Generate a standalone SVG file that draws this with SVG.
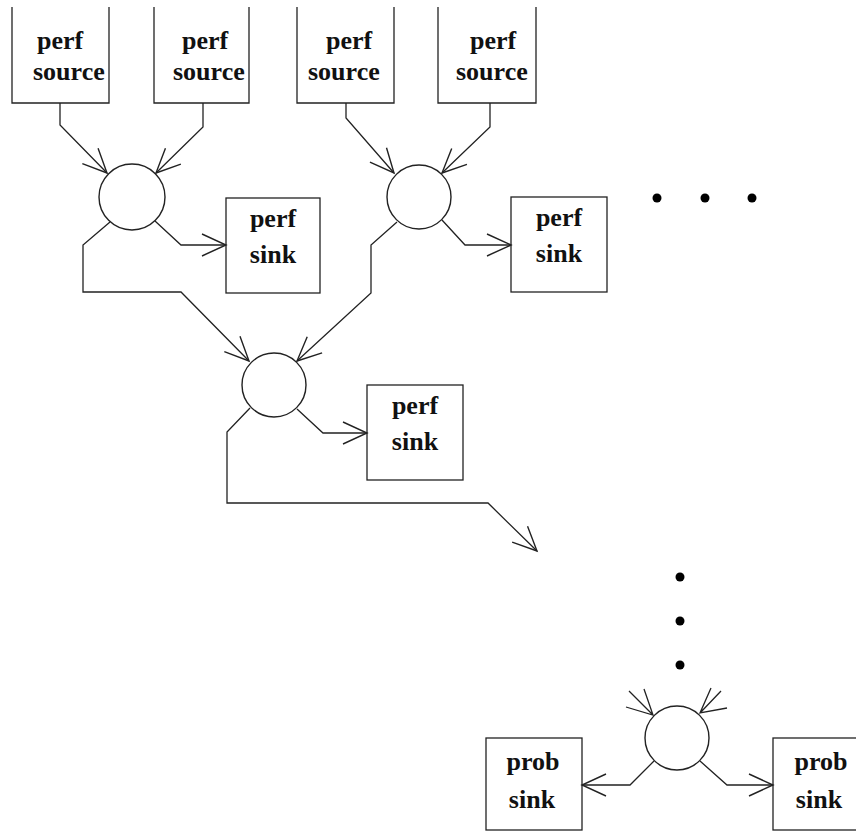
<svg xmlns="http://www.w3.org/2000/svg" width="856" height="833" viewBox="0 0 856 833">
<style>
.bx{fill:none;stroke:#222;stroke-width:1.3}
.c{fill:none;stroke:#222;stroke-width:1.4}
.ln{fill:none;stroke:#222;stroke-width:1.3;stroke-linejoin:miter}
.t{font-family:"Liberation Serif","Times New Roman",serif;font-weight:bold;font-size:26px;fill:#111}
.m{text-anchor:middle}
.dot{fill:#000}
</style>
<defs>
<marker id="ah" markerUnits="userSpaceOnUse" markerWidth="30" markerHeight="30" viewBox="-28 -15 30 30" refX="0" refY="0" orient="auto" overflow="visible">
<path d="M-24,-11 L0,0 L-24,11" fill="none" stroke="#222" stroke-width="1.4"/>
</marker>
</defs>
<rect width="856" height="833" fill="#fff"/>

<g id="src1"><path class="bx" d="M12,7 V103 H109 V7"/><text class="t" x="37" y="49">perf</text><text class="t" x="33" y="80">source</text></g>
<g id="src2"><path class="bx" d="M154,7 V103 H249 V7"/><text class="t" x="182" y="49">perf</text><text class="t" x="173" y="80">source</text></g>
<g id="src3"><path class="bx" d="M297,7 V103 H394 V7"/><text class="t" x="326" y="49">perf</text><text class="t" x="308" y="80">source</text></g>
<g id="src4"><path class="bx" d="M438,7 V103 H536 V7"/><text class="t" x="470" y="49">perf</text><text class="t" x="456" y="80">source</text></g>

<g id="op1"><circle class="c" cx="132" cy="197" r="33"/></g>
<g id="op2"><circle class="c" cx="419" cy="197" r="32"/></g>
<g id="op3"><circle class="c" cx="274" cy="385" r="32"/></g>
<g id="op4"><circle class="c" cx="677" cy="738" r="32"/></g>

<g id="sink1"><rect class="bx" x="226" y="198" width="94" height="95"/><text class="t m" x="273" y="227">perf</text><text class="t m" x="273" y="263">sink</text></g>
<g id="sink2"><rect class="bx" x="511" y="197" width="96" height="95"/><text class="t m" x="559" y="226">perf</text><text class="t m" x="559" y="262">sink</text></g>
<g id="sink3"><rect class="bx" x="367" y="385" width="96" height="95"/><text class="t m" x="415" y="414">perf</text><text class="t m" x="415" y="450">sink</text></g>
<g id="prob1"><rect class="bx" x="486" y="738" width="96" height="92"/><text class="t m" x="533" y="770">prob</text><text class="t m" x="532" y="808">sink</text></g>
<g id="prob2"><rect class="bx" x="773" y="738" width="100" height="92"/><text class="t m" x="821" y="770">prob</text><text class="t m" x="819" y="808">sink</text></g>

<g id="ellipsis">
<circle class="dot" cx="657" cy="198" r="4.5"/><circle class="dot" cx="705" cy="198" r="4.5"/><circle class="dot" cx="752" cy="198" r="4.5"/>
<circle class="dot" cx="680" cy="577" r="4.5"/><circle class="dot" cx="680" cy="621" r="4.5"/><circle class="dot" cx="680" cy="665" r="4.5"/>
</g>

<g id="connectors">
<path class="ln" d="M60,103 V125 L107,173" marker-end="url(#ah)"/>
<path class="ln" d="M203,103 V127 L156,173" marker-end="url(#ah)"/>
<path class="ln" d="M346,103 V118 L394,173" marker-end="url(#ah)"/>
<path class="ln" d="M490,103 V127 L442,173" marker-end="url(#ah)"/>
<path class="ln" d="M155,221 L181,245 H226" marker-end="url(#ah)"/>
<path class="ln" d="M110,222 L83,245 V292 H181 L249,361" marker-end="url(#ah)"/>
<path class="ln" d="M442,220 L465,245 H511" marker-end="url(#ah)"/>
<path class="ln" d="M397,222 L371,245 V293 L297,361" marker-end="url(#ah)"/>
<path class="ln" d="M297,409 L323,433 H367" marker-end="url(#ah)"/>
<path class="ln" d="M250,408 L227,432 V503 H488 L537,551" marker-end="url(#ah)"/>
<path class="ln" d="M654,761 L630,785 H582" marker-end="url(#ah)"/>
<path class="ln" d="M700,761 L727,785 H773" marker-end="url(#ah)"/>
<path class="ln" d="M626,707 L653,715 L644,689 M629,691 L653,715"/>
<path class="ln" d="M711,688 L700,713 L727,708 M721,691 L700,713"/>
</g>
</svg>
